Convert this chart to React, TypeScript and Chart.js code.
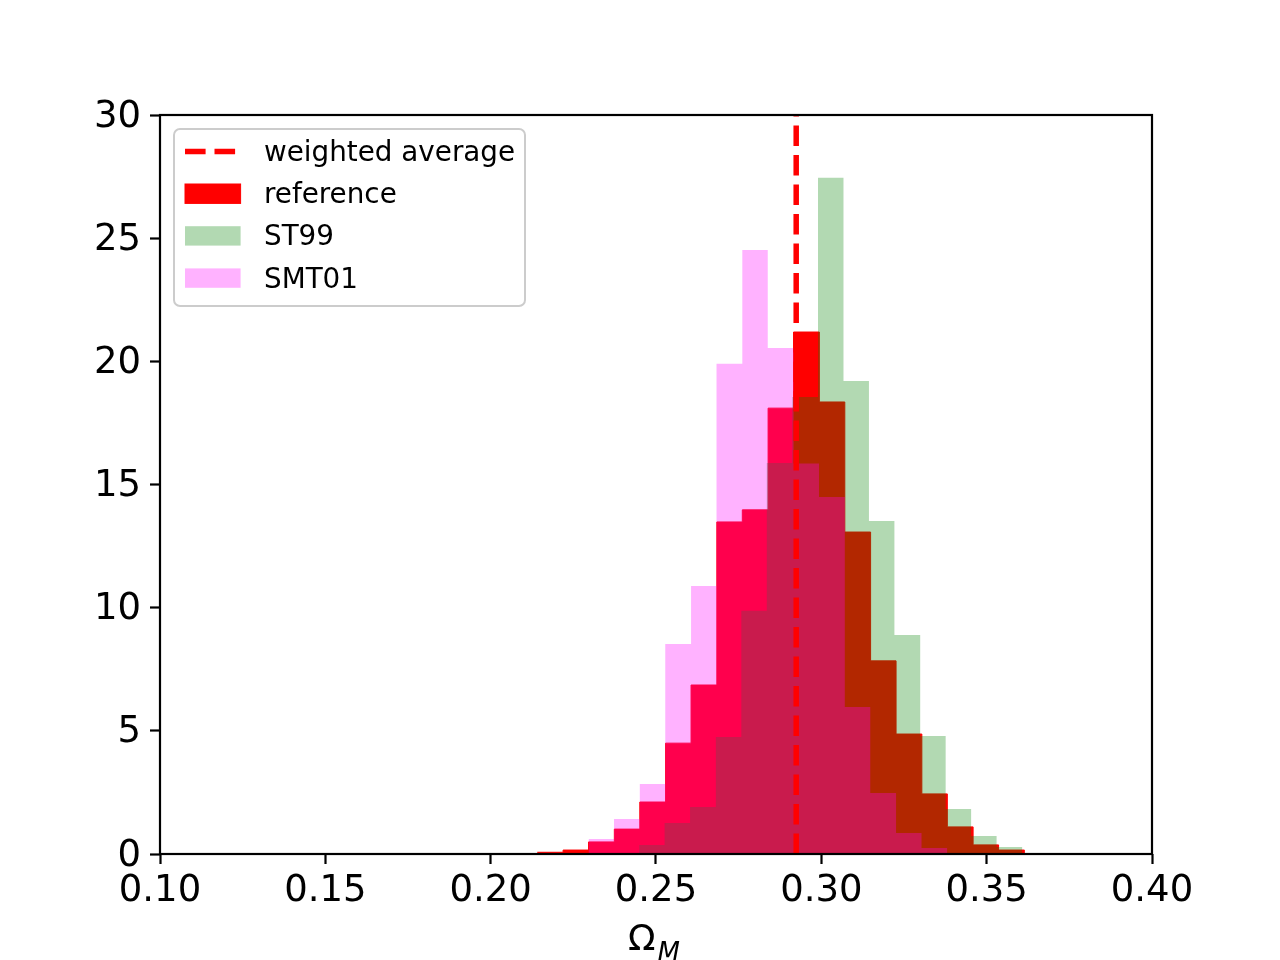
import React, { useEffect, useRef } from 'react'
import { Chart, registerables } from 'chart.js'

Chart.register(...registerables)

// bin edges (Ω_M) and normalised counts
const referenceEdges = [
  0.2141, 0.2219, 0.2296, 0.2374, 0.2451, 0.2529, 0.2606, 0.2684, 0.2761, 0.2839,
  0.2916, 0.2994, 0.3071, 0.3149, 0.3226, 0.3304, 0.3381, 0.3459, 0.3536, 0.3614,
]
const referenceValues = [
  0.07, 0.16, 0.49, 1.01, 2.11, 4.5, 6.86, 13.48, 13.97, 18.1,
  21.19, 18.35, 13.07, 7.84, 4.87, 2.44, 1.1, 0.37, 0.16,
]

const st99Edges = [
  0.2449, 0.2526, 0.2603, 0.2681, 0.2758, 0.2835, 0.2912, 0.299, 0.3067, 0.3144,
  0.3221, 0.3299, 0.3376, 0.3453, 0.353, 0.3608,
]
const st99Values = [
  0.37, 1.26, 1.91, 4.75, 9.87, 15.87, 18.55, 27.45, 19.2, 13.52,
  8.89, 4.79, 1.83, 0.73, 0.28,
]

const smt01Edges = [
  0.2296, 0.2373, 0.2451, 0.2528, 0.2606, 0.2683, 0.2761, 0.2838, 0.2916, 0.2993,
  0.3071, 0.3148, 0.3226, 0.3303, 0.3381,
]
const smt01Values = [
  0.61, 1.42, 2.84, 8.53, 10.88, 19.9, 24.52, 20.54, 15.85, 14.49,
  5.97, 2.48, 0.85, 0.24,
]

const weightedAverage = 0.2924

const xTicks = [0.1, 0.15, 0.2, 0.25, 0.3, 0.35, 0.4]
const yTicks = [0, 5, 10, 15, 20, 25, 30]

const FONT = '"DejaVu Sans", sans-serif'

// histogram as a step outline: value i holds from edge i to edge i+1
const toSteps = (edges: number[], values: number[]) =>
  edges.map((x, i) => ({ x, y: i < values.length ? values[i] : 0 }))

const framePlugin = {
  id: 'frame',
  afterDatasetsDraw(chart: any) {
    const { ctx, chartArea } = chart
    ctx.save()
    ctx.strokeStyle = '#000'
    ctx.lineWidth = 2.2
    ctx.strokeRect(chartArea.left, chartArea.top, chartArea.right - chartArea.left, chartArea.bottom - chartArea.top)
    ctx.restore()
  },
}

const legendPlugin = {
  id: 'mplLegend',
  afterDraw(chart: any) {
    const ctx = chart.ctx
    const x0 = 174
    const y0 = 129
    const w = 351
    const h = 177
    ctx.save()
    ctx.beginPath()
    ctx.roundRect(x0, y0, w, h, 6)
    ctx.fillStyle = 'rgba(255,255,255,0.8)'
    ctx.fill()
    ctx.strokeStyle = '#cccccc'
    ctx.lineWidth = 2
    ctx.stroke()

    const hx = 185
    const hw = 55.6
    chart.data.datasets.forEach((ds: any, i: number) => {
      const baseline = 161 + i * 42.2
      const cy = baseline - 9.5
      if (ds.borderDash) {
        ctx.beginPath()
        ctx.setLineDash(ds.borderDash)
        ctx.lineWidth = ds.borderWidth
        ctx.strokeStyle = ds.borderColor
        ctx.moveTo(hx, cy)
        ctx.lineTo(hx + hw, cy)
        ctx.stroke()
        ctx.setLineDash([])
      } else {
        ctx.fillStyle = ds.backgroundColor
        ctx.fillRect(hx, cy - 9.7, hw, 19.4)
        if (ds.borderWidth) {
          ctx.strokeStyle = ds.borderColor
          ctx.lineWidth = ds.borderWidth
          ctx.strokeRect(hx, cy - 9.7, hw, 19.4)
        }
      }
      ctx.fillStyle = '#000'
      ctx.font = `27.8px ${FONT}`
      ctx.textAlign = 'left'
      ctx.textBaseline = 'alphabetic'
      ctx.fillText(ds.label, 264, baseline)
    })
    ctx.restore()
  },
}

const xTitlePlugin = {
  id: 'xTitle',
  afterDraw(chart: any) {
    const ctx = chart.ctx
    ctx.save()
    ctx.fillStyle = '#000'
    ctx.textAlign = 'left'
    ctx.textBaseline = 'alphabetic'
    ctx.font = `36px ${FONT}`
    ctx.fillText('Ω', 628, 950)
    const w = ctx.measureText('Ω').width
    ctx.font = `italic 26px ${FONT}`
    ctx.fillText('M', 628 + w + 2, 961)
    ctx.restore()
  },
}

const App = () => {
  const ctx = useRef<HTMLCanvasElement | null>(null)

  useEffect(() => {
    let theChart: Chart | undefined
    if (ctx.current !== null) {
      theChart = new Chart(ctx.current, {
        type: 'line',
        data: {
          datasets: [
            {
              label: 'weighted average',
              data: [
                { x: weightedAverage, y: 0 },
                { x: weightedAverage, y: 30 },
              ],
              borderColor: '#ff0000',
              borderWidth: 5.5,
              borderDash: [20.6, 8.9],
              borderCapStyle: 'butt',
              pointRadius: 0,
              fill: false,
              order: 0,
            },
            {
              label: 'reference',
              data: toSteps(referenceEdges, referenceValues),
              stepped: 'before',
              fill: 'origin',
              backgroundColor: '#ff0000',
              borderColor: '#ff0000',
              borderWidth: 1,
              pointRadius: 0,
              order: 3,
            },
            {
              label: 'ST99',
              data: toSteps(st99Edges, st99Values),
              stepped: 'before',
              fill: 'origin',
              backgroundColor: 'rgba(0,128,0,0.3)',
              borderWidth: 0,
              pointRadius: 0,
              order: 2,
            },
            {
              label: 'SMT01',
              data: toSteps(smt01Edges, smt01Values),
              stepped: 'before',
              fill: 'origin',
              backgroundColor: 'rgba(255,0,255,0.3)',
              borderWidth: 0,
              pointRadius: 0,
              order: 1,
            },
          ] as any,
        },
        options: {
          animation: false,
          responsive: true,
          maintainAspectRatio: false,
          layout: { padding: { left: 0, top: 115, right: 128, bottom: 0 } },
          plugins: {
            legend: { display: false },
            tooltip: { enabled: false },
          },
          scales: {
            x: {
              type: 'linear',
              min: 0.1,
              max: 0.4,
              afterBuildTicks: (axis: any) => {
                axis.ticks = xTicks.map((value) => ({ value }))
              },
              afterFit: (scale: any) => {
                scale.height = 106
              },
              border: { display: false },
              grid: {
                drawOnChartArea: false,
                drawTicks: true,
                tickLength: 10,
                tickWidth: 2.2,
                tickColor: '#000',
              },
              ticks: {
                color: '#000',
                font: { family: FONT, size: 37 },
                padding: 5,
                maxRotation: 0,
                autoSkip: false,
                callback: (v: any) => Number(v).toFixed(2),
              },
            },
            y: {
              type: 'linear',
              min: 0,
              max: 30,
              afterBuildTicks: (axis: any) => {
                axis.ticks = yTicks.map((value) => ({ value }))
              },
              afterFit: (scale: any) => {
                scale.width = 160
              },
              border: { display: false },
              grid: {
                drawOnChartArea: false,
                drawTicks: true,
                tickLength: 10,
                tickWidth: 2.2,
                tickColor: '#000',
              },
              ticks: {
                color: '#000',
                font: { family: FONT, size: 37 },
                padding: 9,
                labelOffset: 2,
                autoSkip: false,
              },
            },
          },
        },
        plugins: [framePlugin, legendPlugin, xTitlePlugin],
      })
    }
    return () => {
      if (theChart) {
        theChart.destroy()
      }
    }
  }, [])

  return (
    <div style={{ position: 'fixed', left: 0, top: 0, width: 1280, height: 960, background: '#fff' }}>
      <canvas ref={ctx}></canvas>
    </div>
  )
}

export default App
